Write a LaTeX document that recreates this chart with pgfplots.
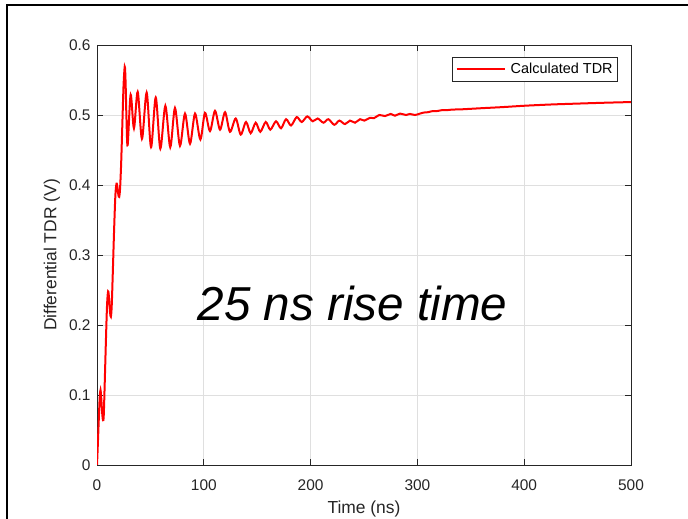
\documentclass[border=0pt]{standalone}
\usepackage{fontspec}
\setmainfont{Liberation Sans}
\usepackage{pgfplots}
\pgfplotsset{compat=1.18}
\definecolor{axisgray}{RGB}{38,38,38}
\definecolor{gridgray}{RGB}{223,223,223}
\begin{document}
\begin{tikzpicture}
\useasboundingbox (0,0) rectangle (688bp,519bp);
\draw[line width=2bp, black] (7bp,-2bp) -- (7bp,514bp) -- (690bp,514bp);
\begin{axis}[
  at={(97bp,54bp)}, anchor=south west,
  scale only axis, width=534bp, height=420bp,
  xmin=0, xmax=500, ymin=0, ymax=0.6,
  xtick={0,100,200,300,400,500},
  ytick={0,0.1,0.2,0.3,0.4,0.5,0.6},
  yticklabels={0,0.1,0.2,0.3,0.4,0.5,0.6},
  grid=major,
  major grid style={color=gridgray, line width=0.7bp},
  axis line style={color=axisgray, line width=0.8bp},
  tick style={color=axisgray, line width=0.8bp},
  major tick length=6bp,
  tick align=inside,
  /pgf/number format/assume math mode=true,
  tick label style={font=\fontsize{15.5}{18}\selectfont, color=axisgray},
  xticklabel style={yshift=-11bp},
  yticklabel style={xshift=-3bp},
  label style={font=\fontsize{17.5}{20}\selectfont, color=axisgray},
  xlabel={Time (ns)},
  ylabel={Differential TDR (V)},
  xlabel style={at={(axis description cs:0.5,0)}, anchor=center, yshift=-44bp},
  ylabel style={at={(axis description cs:-0.0843,0.5)}, anchor=center},
  legend style={at={(1,1)}, anchor=north east, xshift=-13bp, yshift=-12bp,
    draw=axisgray, line width=0.6bp, fill=white,
    font=\fontsize{14.5}{17}\selectfont, inner xsep=3bp, inner ysep=4bp,
    nodes={inner sep=2bp}},
  legend cell align=left,
  legend image code/.code={\draw[#1] (0bp,0bp) -- (48bp,0bp); \path (51bp,0bp);},
]
\addplot[red, line width=2bp, smooth, tension=0.5] coordinates {
(0,0) (0.8,0.03) (1.8,0.07) (2.6,0.098) (3.3,0.107) (4.0,0.095) (4.8,0.075)
(5.6,0.064) (6.3,0.07) (7.2,0.115) (8.3,0.175) (9.4,0.228) (10.4,0.248)
(11.3,0.238) (12.2,0.218) (13.0,0.212) (13.8,0.228) (14.8,0.275) (16.0,0.335)
(17.2,0.385) (18.3,0.402) (19.2,0.396) (20.0,0.386) (20.8,0.383) (21.6,0.395)
(22.6,0.43) (23.7,0.485) (24.8,0.54) (25.7,0.565) (26.2,0.568) (26.8,0.545)
(27.6,0.495) (28.7,0.457)
(31.5,0.529) (34.6,0.481) (38.1,0.533) (42.1,0.466) (46.5,0.532) (50.6,0.454)
(55.0,0.525) (59.3,0.452) (64.0,0.513) (68.6,0.454) (73.0,0.510) (77.7,0.456)
(82.4,0.502) (87.1,0.459) (91.8,0.502) (96.8,0.465) (101.1,0.503) (105.8,0.477)
(110.5,0.506) (115.2,0.479) (119.9,0.504) (124.5,0.476) (129.9,0.495) (134.6,0.472)
(139.5,0.490) (143.9,0.474) (148.6,0.489) (152.9,0.476) (158.0,0.490) (162.3,0.479)
(167.6,0.491) (172.3,0.481) (177.0,0.494) (181.7,0.485) (187.0,0.497) (191.7,0.490)
(196.9,0.498) (202.0,0.491) (206.6,0.495) (212.0,0.489) (216.6,0.494) (222.2,0.486)
(226.9,0.492) (232.2,0.487) (236.9,0.492) (241.6,0.489) (246.3,0.494) (250.3,0.492)
(255.6,0.496) (259.4,0.4955) (264.3,0.500) (269.7,0.4985) (275.0,0.5015) (279.0,0.499)
(283.7,0.502) (289.3,0.500) (293.0,0.5015) (297.7,0.500) (302,0.5018) (306,0.5035)
(310,0.504) (314,0.5055) (318,0.5055) (322.5,0.5068) (327,0.5068) (333,0.5078)
(340,0.508) (360,0.5097) (380,0.5113) (400,0.5132) (425,0.515) (450,0.5163)
(475,0.5175) (500,0.5185)
};
\addlegendentry{Calculated TDR}
\node[anchor=base, font=\fontsize{47.8}{52}\selectfont\itshape, black]
  at (axis cs:239.2,0.207) {25 ns rise time};
\end{axis}
\end{tikzpicture}
\end{document}
